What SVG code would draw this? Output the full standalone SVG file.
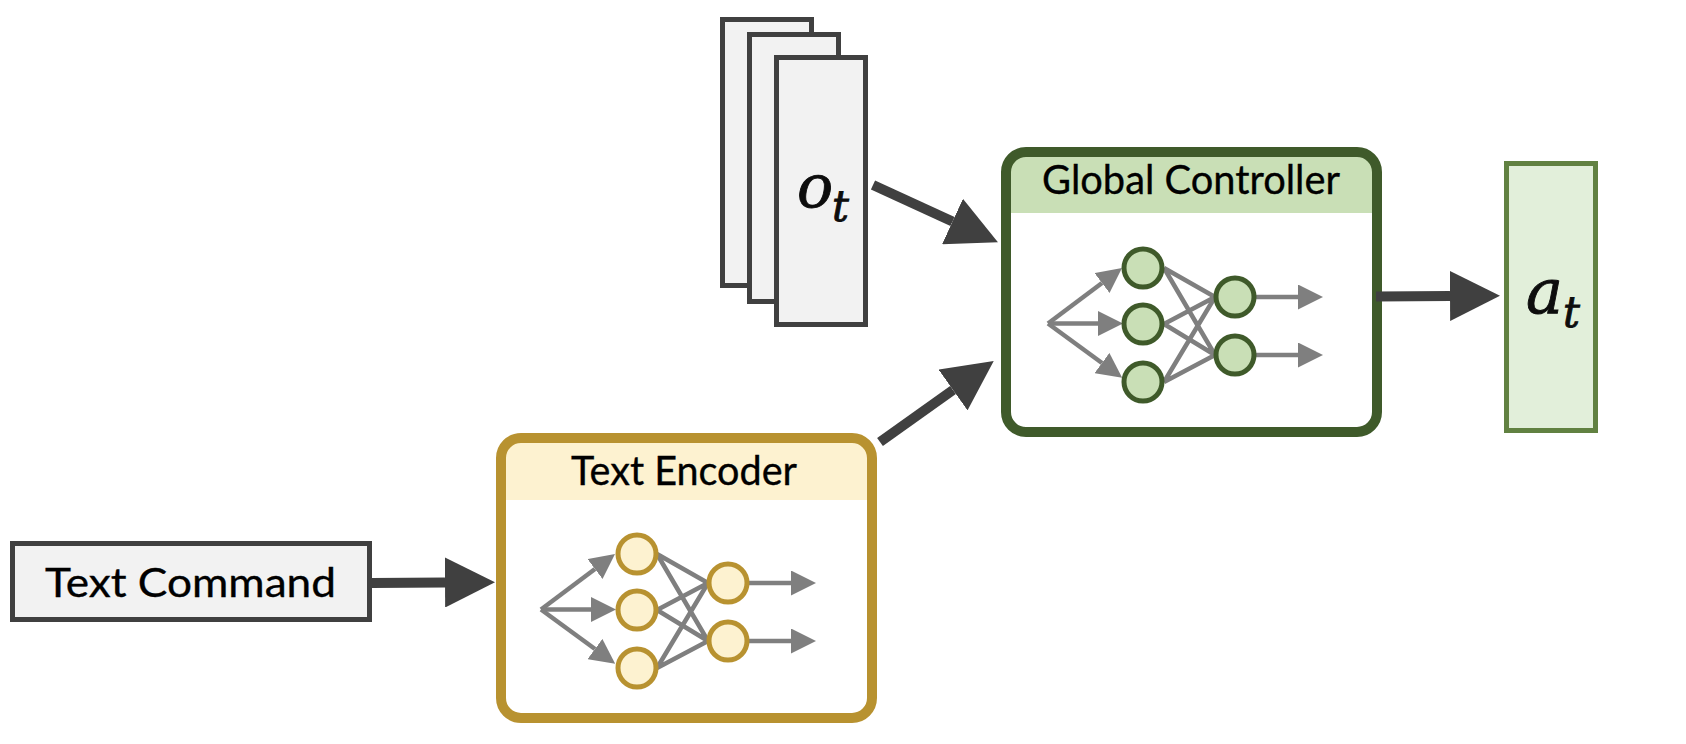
<svg xmlns="http://www.w3.org/2000/svg" width="1686" height="744" viewBox="0 0 1686 744">
<style>
text{font-family:"Lato","Open Sans","Liberation Sans",sans-serif;font-size:41px;fill:#000;stroke:#000;stroke-width:.35}
.m{font-family:"DejaVu Serif","Liberation Serif",serif;font-style:italic;fill:#0d0d0d;stroke:#0d0d0d;stroke-width:.9}
.d{fill:#f2f2f2;stroke:#404040;stroke-width:5}
.a{fill:#e2efda;stroke:#618141;stroke-width:5}
.c{stroke:#404040;stroke-width:10;fill:none;marker-end:url(#dark)}
.g{stroke:#7f7f7f;stroke-width:4.5;fill:none}
.ga{marker-end:url(#gray)}
.box{fill:none;stroke-width:10}
.n{stroke-width:5}
.te .box,.te .n{stroke:#b89230}.te .n{fill:#fdf2d0}.te .h{fill:#fdf2d0}
.gc .box,.gc .n{stroke:#3f5a2a}.gc .n{fill:#c9dfb6}.gc .h{fill:#c9dfb6}
</style>
<defs>
<marker id="dark" markerUnits="userSpaceOnUse" markerWidth="50" markerHeight="50" refX="0" refY="25" orient="auto" viewBox="0 0 50 50"><path d="M0,0L50,25L0,50z" fill="#404040"/></marker>
<marker id="gray" markerUnits="userSpaceOnUse" markerWidth="25" markerHeight="25" refX="0" refY="12.5" orient="auto" viewBox="0 0 25 25"><path d="M0,0L25,12.5L0,25z" fill="#7f7f7f"/></marker>
<g id="net">
<g class="g">
<path d="M657,554L708,583M657,554L708,641M657,610L708,583M657,610L708,641M657,668L708,583M657,668L708,641"/>
<path class="ga" d="M541,609.5L595,569"/>
<path class="ga" d="M541,609.5L591,609.5"/>
<path class="ga" d="M541,609.5L595,649"/>
<path class="ga" d="M728,583L791,583"/>
<path class="ga" d="M728,641L791,641"/>
</g>
</g>
</defs>
<g id="text-command"><rect class="d" x="12.5" y="543.5" width="357" height="76"/><text x="45" y="597" textLength="291" lengthAdjust="spacingAndGlyphs">Text Command</text></g>
<g id="observation-stack">
<rect class="d" x="722.5" y="19.5" width="89" height="266"/>
<rect class="d" x="749.5" y="34.5" width="89" height="267"/>
<rect class="d" x="776.5" y="57.5" width="89" height="267"/>
<text class="m" x="797" y="207" style="font-size:60px">o</text><text class="m" x="832" y="221" style="font-size:42px">t</text>
</g>
<g id="text-encoder" class="te">
<rect x="501" y="438" width="371" height="280" rx="20" fill="#fff"/>
<path class="h" d="M501,500V458a20,20 0 0 1 20,-20H852a20,20 0 0 1 20,20V500z"/>
<use href="#net"/>
<circle class="n" cx="637" cy="554" r="19"/><circle class="n" cx="637" cy="610" r="19"/><circle class="n" cx="637" cy="668" r="19"/><circle class="n" cx="728" cy="583" r="19"/><circle class="n" cx="728" cy="641" r="19"/>
<rect class="box" x="501" y="438" width="371" height="280" rx="20"/>
<text x="571" y="485" textLength="226" lengthAdjust="spacingAndGlyphs">Text Encoder</text>
</g>
<g id="global-controller" class="gc">
<rect x="1006" y="152" width="371" height="280" rx="20" fill="#fff"/>
<path class="h" d="M1006,213V172a20,20 0 0 1 20,-20H1357a20,20 0 0 1 20,20V213z"/>
<use href="#net" transform="translate(507,-286)"/>
<circle class="n" cx="1143" cy="268" r="19"/><circle class="n" cx="1143" cy="324" r="19"/><circle class="n" cx="1143" cy="382" r="19"/><circle class="n" cx="1235" cy="297" r="19"/><circle class="n" cx="1235" cy="355" r="19"/>
<rect class="box" x="1006" y="152" width="371" height="280" rx="20"/>
<text x="1042" y="194" textLength="298" lengthAdjust="spacingAndGlyphs">Global Controller</text>
</g>
<g id="action"><rect class="a" x="1506.5" y="163.5" width="89" height="267"/>
<text class="m" x="1526" y="313" style="font-size:62px">a</text><text class="m" x="1563" y="327" style="font-size:42px">t</text></g>
<g id="connectors">
<path class="c" d="M372,583L445,582.5"/>
<path class="c" d="M873,185L952.5,221.5"/>
<path class="c" d="M880,442L953,390"/>
<path class="c" d="M1376,296.5L1450,296"/>
</g>
</svg>
